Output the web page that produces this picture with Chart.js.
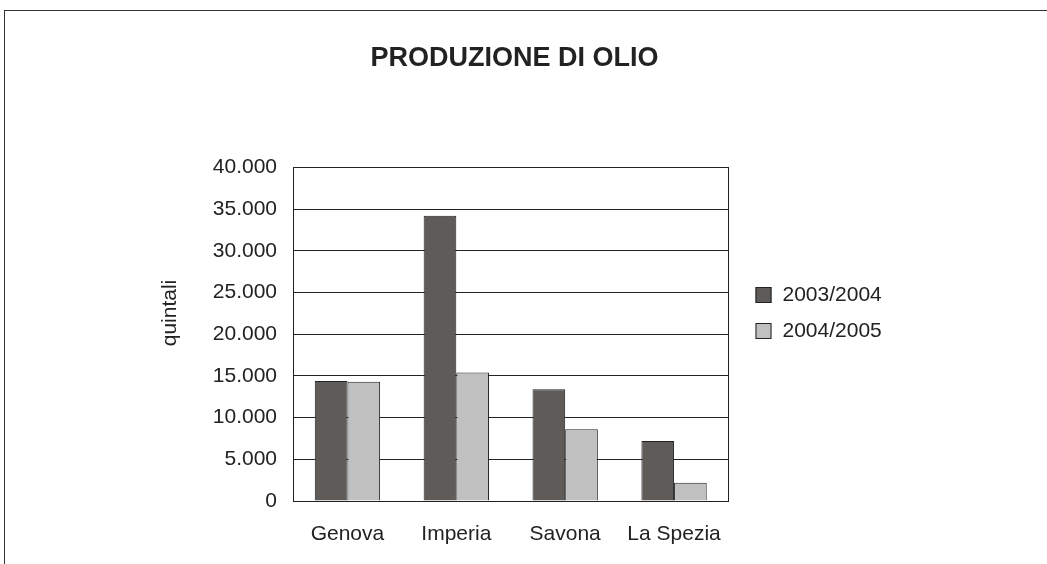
<!DOCTYPE html>
<html>
<head>
<meta charset="utf-8">
<script src="https://cdn.jsdelivr.net/npm/chart.js@4"></script>
<style>
  html, body { margin: 0; padding: 0; background: #fff; overflow: hidden; }
  #frame { position: absolute; left: 4px; top: 10px; width: 1100px; height: 600px; border: 1px solid #333; }
  #wrap { position: absolute; left: 0; top: 0; width: 1047px; height: 564px; }
</style>
</head>
<body>
<div id="frame"></div>
<div id="wrap"><canvas id="chart"></canvas></div>
<script>
const provinces = ['Genova', 'Imperia', 'Savona', 'La Spezia'];
const seriesLabels = ['2003/2004', '2004/2005'];
const prod2003 = [14400, 34200, 13400, 7200];
const prod2004 = [14300, 15400, 8600, 2200];
const yTicks = [0, 5000, 10000, 15000, 20000, 25000, 30000, 35000, 40000];

const ink = '#222';
const font = 'Arial, "Liberation Sans", sans-serif';

// thousands with a dot, as in the original
function fmt(v) {
    return String(v).replace(/\B(?=(\d{3})+(?!\d))/g, '.');
}

// legend on the right and the rotated axis title
const sideText = {
    id: 'sideText',
    afterDraw(chart) {
        const ctx = chart.ctx;
        const area = chart.chartArea;
        ctx.save();
        ctx.font = '21px ' + font;
        ctx.fillStyle = ink;
        ctx.textBaseline = 'middle';

        ctx.save();
        ctx.translate(170, 313);
        ctx.rotate(-Math.PI / 2);
        ctx.textAlign = 'center';
        ctx.fillText('quintali', 0, 0);
        ctx.restore();

        chart.data.datasets.forEach((ds, i) => {
            const y = 295 + i * 36;
            const x = area.right + 27;
            ctx.fillStyle = ds.backgroundColor;
            ctx.fillRect(x, y - 8, 16, 16);
            ctx.strokeStyle = ink;
            ctx.lineWidth = 1;
            ctx.strokeRect(x + 0.5, y - 7.5, 15, 15);
            ctx.fillStyle = ink;
            ctx.textAlign = 'left';
            ctx.fillText(ds.label, x + 27, y);
        });
        ctx.restore();
    }
};

new Chart(document.getElementById('chart'), {
    type: 'bar',
    data: {
        labels: provinces,
        datasets: [
            { label: seriesLabels[0], data: prod2003, backgroundColor: '#5f5b59', borderColor: ink, borderWidth: 1 },
            { label: seriesLabels[1], data: prod2004, backgroundColor: '#c0c0c0', borderColor: ink, borderWidth: 1 }
        ]
    },
    options: {
        responsive: true,
        maintainAspectRatio: false,
        animation: false,
        layout: { padding: { left: 0, right: 18, top: 0, bottom: 17 } },
        datasets: { bar: { categoryPercentage: 0.6, barPercentage: 1.0 } },
        plugins: {
            legend: { display: false },
            tooltip: { enabled: false },
            title: {
                display: true,
                text: 'PRODUZIONE DI OLIO',
                color: ink,
                font: { family: font, size: 27, weight: 'bold' },
                padding: { top: 42, bottom: 93 }
            }
        },
        scales: {
            x: {
                afterFit(scale) { scale.height = 46; },
                grid: { display: false, drawTicks: false },
                border: { display: true, color: ink, width: 1 },
                ticks: { color: ink, font: { family: font, size: 21 }, padding: 21 }
            },
            y: {
                min: 0,
                max: 40000,
                afterFit(scale) { scale.width = 293; },
                afterBuildTicks(scale) { scale.ticks = yTicks.map(v => ({ value: v })); },
                grid: { color: ink, lineWidth: 1, drawTicks: false },
                border: { display: true, color: ink, width: 1 },
                ticks: { color: ink, font: { family: font, size: 21 }, padding: 16, callback: v => fmt(v) }
            },
            yr: {
                position: 'right',
                afterFit(scale) { scale.width = 300.5; },
                grid: { display: false, drawTicks: false },
                border: { display: true, color: ink, width: 1 },
                ticks: { display: false }
            }
        }
    },
    plugins: [sideText]
});
</script>
</body>
</html>
